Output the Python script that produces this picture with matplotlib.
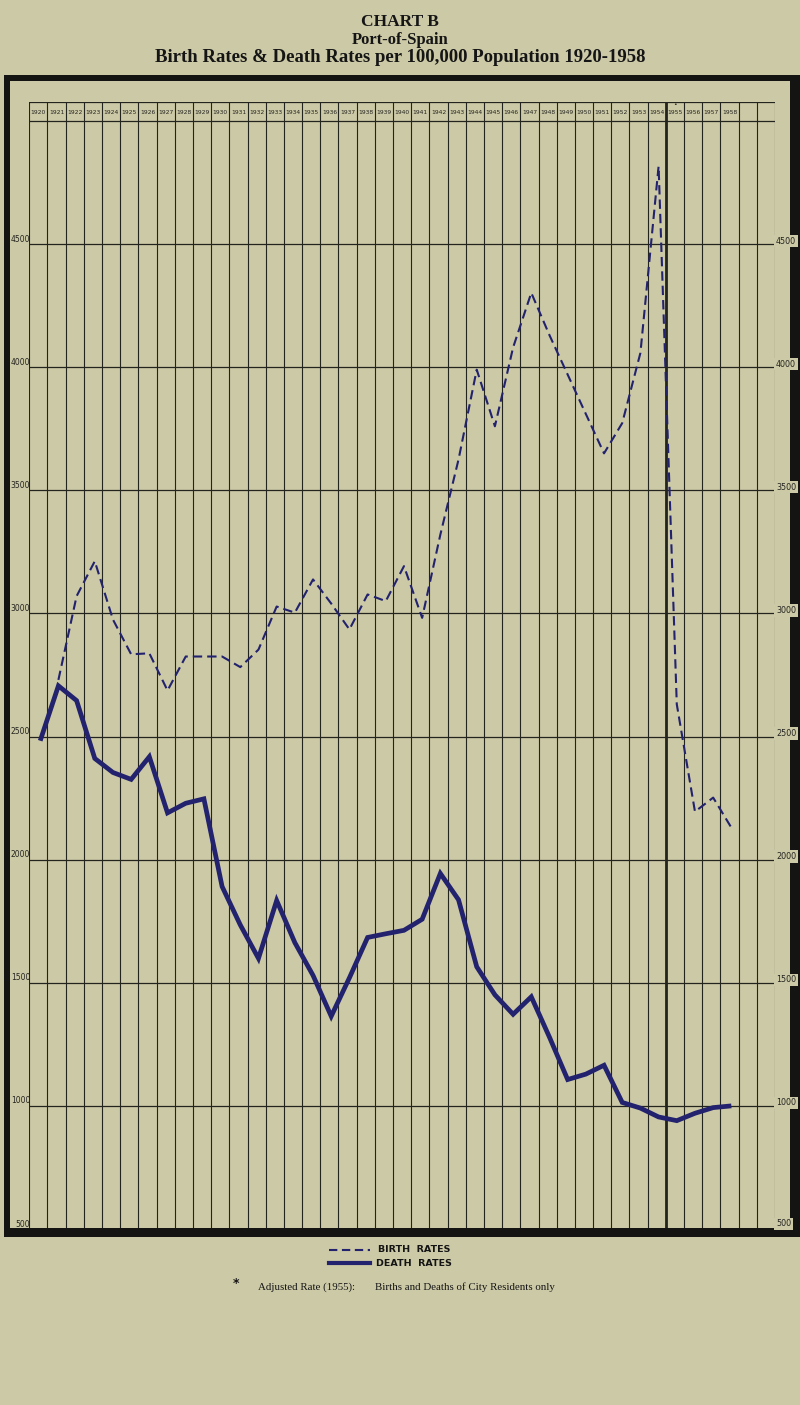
import matplotlib
matplotlib.use("Agg")
import matplotlib.pyplot as plt
from matplotlib.patches import Rectangle
from matplotlib.lines import Line2D

# ---------------- data ----------------
header_years = [str(y) for y in range(1920, 1959)] + ["", ""]   # 41 columns, last two empty

death_years = list(range(1920, 1959))
death_rates = [2483, 2706, 2646, 2411, 2354, 2326, 2418, 2190, 2229, 2247,
               1891, 1735, 1599, 1834, 1663, 1530, 1364, 1520, 1684, 1699,
               1713, 1758, 1944, 1837, 1565, 1451, 1372, 1443, 1279, 1107,
               1129, 1165, 1014, 991, 955, 940, 970, 993, 1000]

birth_years = list(range(1921, 1959))
birth_rates = [2730, 3070, 3212, 2975, 2834, 2838, 2687, 2825, 2825, 2825,
               2782, 2853, 3028, 3003, 3138, 3040, 2935, 3077, 3050, 3192,
               2982, 3320, 3625, 3990, 3760, 4080, 4302, 4130, 3970, 3810,
               3650, 3773, 4058, 4816, 2631, 2195, 2252, 2130]

y_ticks = [500, 1000, 1500, 2000, 2500, 3000, 3500, 4000, 4500]
first_year = 1920
adjusted_year = 1955

# ---------------- style ----------------
W, H = 800, 1405
BG = "#ccc9a6"
INK = "#24241f"
BLUE = "#22226e"

fig = plt.figure(figsize=(W / 100, H / 100), dpi=100, facecolor=BG)


def fx(x):
    return x / W


def fy(y):
    return 1 - y / H


n_cols = len(header_years)
ax = fig.add_axes([fx(29.3), fy(1229), fx(775) - fx(29.3), fy(102) - fy(1229)])
ax.set_facecolor(BG)
ax.set_xlim(0, n_cols)
ax.set_ylim(500, 5077)
ax.axis("off")

# vertical grid (column boundaries); the 1954/1955 boundary is heavier
for k in range(n_cols + 1):
    lw = 2.0 if k == adjusted_year - first_year else 0.8
    ax.axvline(k, color=INK, lw=lw, zorder=1)

# horizontal grid
ax.hlines(y_ticks[1:], 0, n_cols, color=INK, lw=0.9, zorder=1)
ax.hlines([5000, 5077], 0, n_cols, color=INK, lw=0.9, zorder=1)

# header year labels
for k, lab in enumerate(header_years):
    if lab:
        ax.text(k + 0.5, 5036, lab, ha="center", va="center", fontsize=4.3,
                color=INK, family="DejaVu Sans", zorder=3)
ax.text(adjusted_year - first_year + 0.5, 5066, "\u2022", ha="center", va="center",
        fontsize=4.5, color=INK, zorder=3)

# data lines
xb = [y - first_year + 0.6 for y in birth_years]
xd = [y - first_year + 0.6 for y in death_years]
ax.plot(xb, birth_rates, color=BLUE, lw=1.5, dashes=(4.5, 2.4),
        dash_capstyle="butt", zorder=4)
ax.plot(xd, death_rates, color=BLUE, lw=3.4, solid_joinstyle="miter",
        solid_capstyle="butt", zorder=5)

# left value labels
for v in y_ticks:
    ax.text(0.05, v + 20, str(v), ha="right", va="center", fontsize=5.5,
            color=INK, clip_on=False, zorder=3)

# thick frame
frame = [(4, 75, 796, 6),      # top
         (4, 75, 6, 1162),     # left
         (790, 75, 10, 1162),  # right
         (4, 1228, 796, 9)]    # bottom
for x, y, w, h in frame:
    fig.add_artist(Rectangle((fx(x), fy(y + h)), w / W, h / H,
                             transform=fig.transFigure, facecolor="#141412",
                             edgecolor="none", zorder=1))

# right value labels (cut through the thick right bar)
def val_to_py(v):
    return 1229 - (v - 500) * (1229 - 102) / (5077 - 500)

for v in y_ticks:
    py = val_to_py(v) - 3 if v > 500 else 1224
    fig.text(fx(776), fy(py), str(v), ha="left", va="center", fontsize=5.8,
             color=INK, zorder=3,
             bbox=dict(facecolor=BG, edgecolor="none", pad=1.2))

# titles
fig.text(0.5, fy(22), "CHART B", ha="center", va="center", fontsize=12.5,
         fontweight="bold", family="Liberation Serif", color="#151515")
fig.text(0.5, fy(39.5), "Port-of-Spain", ha="center", va="center", fontsize=12,
         fontweight="bold", family="Liberation Serif", color="#151515")
fig.text(0.5, fy(57), "Birth Rates & Death Rates per 100,000 Population 1920-1958",
         ha="center", va="center", fontsize=13.5, fontweight="bold",
         family="Liberation Serif", color="#151515")

# legend
fig.add_artist(Line2D([fx(329), fx(370)], [fy(1250), fy(1250)], color=BLUE, lw=1.5,
                      dashes=(4, 2.2), transform=fig.transFigure))
fig.add_artist(Line2D([fx(329), fx(370)], [fy(1263), fy(1263)], color=BLUE, lw=3.0,
                      transform=fig.transFigure))
fig.text(fx(378), fy(1250), "BIRTH  RATES", ha="left", va="center", fontsize=6.8,
         fontweight="bold", color="#141414")
fig.text(fx(376), fy(1263), "DEATH  RATES", ha="left", va="center", fontsize=6.8,
         fontweight="bold", color="#141414")

# footnote
fig.text(fx(236), fy(1284), "*", ha="center", va="center", fontsize=9,
         fontweight="bold", color="#141414")
fig.text(fx(258), fy(1287), "Adjusted Rate (1955):", ha="left", va="center",
         fontsize=7.8, family="Liberation Serif", color="#141414")
fig.text(fx(375), fy(1287), "Births and Deaths of City Residents only", ha="left",
         va="center", fontsize=7.8, family="Liberation Serif", color="#141414")

fig.savefig("out.png", dpi=100, facecolor=BG)
